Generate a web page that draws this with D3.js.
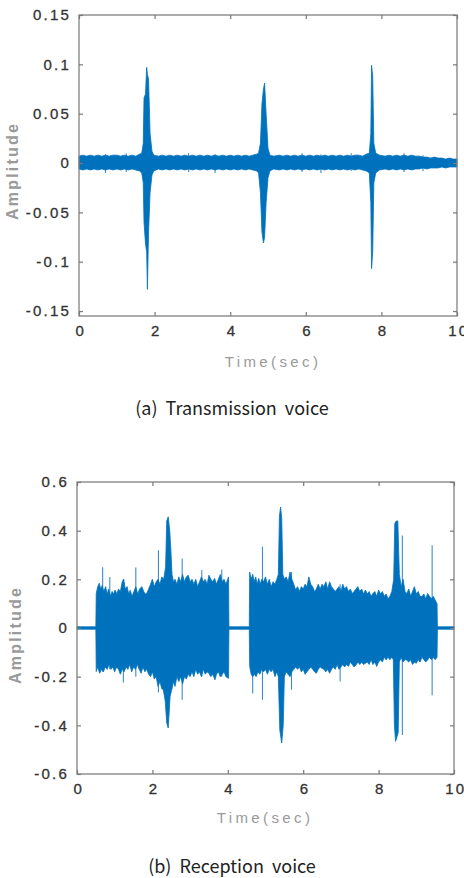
<!DOCTYPE html>
<html>
<head>
<meta charset="utf-8">
<script src="https://cdn.jsdelivr.net/npm/d3@7"></script>
<style>
  body { margin: 0; background: #fff; }
  svg { display: block; }
  .tick text { font-family: "Liberation Sans", Arial, sans-serif; font-size: 15px; fill: #333; stroke: #333; stroke-width: 0.3px; letter-spacing: 2.2px; }
  .tick line { stroke: #7a7a7a; stroke-width: 1.2; }
  .axis-title { font-family: "Liberation Sans", Arial, sans-serif; fill: #9a9a9a; }
  .caption { font-family: "Noto Sans CJK KR", "Noto Sans", sans-serif; font-size: 18px; fill: #222; }
</style>
</head>
<body>
<div id="chart"></div>
<script>
var timeTicks = [0, 2, 4, 6, 8, 10];

// ---- (a) Transmission voice : [time, amplitude] envelope ----
var ampTicksA = [-0.15, -0.1, -0.05, 0, 0.05, 0.1, 0.15];
var ampLabelsA = ["-0.15", "-0.1", "-0.05", "0", "0.05", "0.1", "0.15"];

var upperA = [[0, 0.007], [0.1, 0.008], [0.2, 0.007], [0.3, 0.008], [0.4, 0.007], [0.5, 0.008], [0.6, 0.007], [0.7, 0.008],
  [0.8, 0.007], [0.9, 0.008], [1.0, 0.008], [1.1, 0.007], [1.2, 0.008], [1.3, 0.007], [1.4, 0.008], [1.5, 0.007],
  [1.6, 0.009], [1.66, 0.010], [1.70, 0.02], [1.72, 0.066], [1.76, 0.07], [1.79, 0.097], [1.81, 0.09], [1.84, 0.085],
  [1.88, 0.03], [1.93, 0.012], [1.98, 0.008], [2.1, 0.007], [2.2, 0.008], [2.3, 0.007], [2.4, 0.008], [2.5, 0.007],
  [2.6, 0.008], [2.7, 0.007], [2.8, 0.008], [2.9, 0.007], [3.0, 0.008], [3.1, 0.007], [3.2, 0.008], [3.3, 0.007],
  [3.4, 0.008], [3.5, 0.007], [3.6, 0.008], [3.7, 0.007], [3.8, 0.008], [3.9, 0.007], [4.0, 0.008], [4.1, 0.007],
  [4.2, 0.008], [4.3, 0.007], [4.4, 0.008], [4.5, 0.007], [4.6, 0.008], [4.7, 0.009], [4.75, 0.010], [4.80, 0.02],
  [4.84, 0.06], [4.88, 0.075], [4.91, 0.081], [4.95, 0.05], [5.0, 0.015], [5.05, 0.008], [5.15, 0.007], [5.3, 0.008],
  [5.4, 0.007], [5.5, 0.008], [5.6, 0.007], [5.7, 0.008], [5.8, 0.007], [5.9, 0.008], [6.0, 0.007], [6.1, 0.008],
  [6.2, 0.007], [6.3, 0.008], [6.4, 0.007], [6.5, 0.008], [6.6, 0.007], [6.7, 0.008], [6.8, 0.007], [6.9, 0.008],
  [7.0, 0.007], [7.1, 0.008], [7.2, 0.007], [7.3, 0.008], [7.4, 0.008], [7.5, 0.007], [7.6, 0.009], [7.68, 0.010],
  [7.72, 0.03], [7.74, 0.099], [7.77, 0.088], [7.80, 0.02], [7.85, 0.010], [7.95, 0.008], [8.1, 0.007], [8.2, 0.008],
  [8.3, 0.007], [8.4, 0.008], [8.5, 0.007], [8.6, 0.008], [8.7, 0.007], [8.8, 0.008], [8.9, 0.007], [9.0, 0.007],
  [9.1, 0.006], [9.2, 0.006], [9.3, 0.005], [9.4, 0.006], [9.5, 0.005], [9.6, 0.005], [9.7, 0.004], [9.8, 0.005],
  [9.9, 0.004], [10.0, 0.004]];
var lowerA = [[0, -0.006], [0.1, -0.007], [0.2, -0.006], [0.3, -0.007], [0.4, -0.006], [0.5, -0.007], [0.6, -0.006],
  [0.7, -0.007], [0.8, -0.006], [0.9, -0.007], [1.0, -0.006], [1.1, -0.007], [1.2, -0.006], [1.3, -0.007], [1.4, -0.006],
  [1.5, -0.007], [1.6, -0.008], [1.66, -0.010], [1.70, -0.02], [1.72, -0.06], [1.76, -0.082], [1.79, -0.09],
  [1.81, -0.128], [1.84, -0.07], [1.88, -0.03], [1.93, -0.012], [1.98, -0.008], [2.1, -0.006], [2.2, -0.007],
  [2.3, -0.006], [2.4, -0.007], [2.5, -0.006], [2.6, -0.007], [2.7, -0.006], [2.8, -0.007], [2.9, -0.006],
  [3.0, -0.007], [3.1, -0.006], [3.2, -0.007], [3.3, -0.006], [3.4, -0.007], [3.5, -0.006], [3.6, -0.007],
  [3.7, -0.006], [3.8, -0.007], [3.9, -0.006], [4.0, -0.007], [4.1, -0.006], [4.2, -0.007], [4.3, -0.006],
  [4.4, -0.007], [4.5, -0.006], [4.6, -0.007], [4.7, -0.008], [4.75, -0.010], [4.80, -0.03], [4.84, -0.07],
  [4.88, -0.081], [4.91, -0.075], [4.95, -0.04], [5.0, -0.015], [5.05, -0.008], [5.15, -0.006], [5.3, -0.007],
  [5.4, -0.006], [5.5, -0.007], [5.6, -0.006], [5.7, -0.007], [5.8, -0.006], [5.9, -0.007], [6.0, -0.006],
  [6.1, -0.007], [6.2, -0.006], [6.3, -0.007], [6.4, -0.006], [6.5, -0.007], [6.6, -0.006], [6.7, -0.007],
  [6.8, -0.006], [6.9, -0.007], [7.0, -0.006], [7.1, -0.007], [7.2, -0.006], [7.3, -0.007], [7.4, -0.006],
  [7.5, -0.007], [7.6, -0.008], [7.68, -0.010], [7.72, -0.04], [7.74, -0.107], [7.77, -0.09], [7.80, -0.02],
  [7.85, -0.010], [7.95, -0.007], [8.1, -0.006], [8.2, -0.007], [8.3, -0.006], [8.4, -0.007], [8.5, -0.006],
  [8.6, -0.007], [8.7, -0.006], [8.8, -0.007], [8.9, -0.006], [9.0, -0.006], [9.1, -0.005], [9.2, -0.006],
  [9.3, -0.005], [9.4, -0.005], [9.5, -0.005], [9.6, -0.004], [9.7, -0.005], [9.8, -0.004], [9.9, -0.004], [10.0, -0.004]];
// thin noise blips: [time, high, low]
var spikesA = [[0.7, 0.009, -0.010], [1.25, 0.010, -0.009], [2.9, 0.010, -0.009], [3.6, 0.009, -0.010],
  [5.9, 0.010, -0.009], [6.4, 0.009, -0.010], [7.2, 0.010, -0.008], [8.6, 0.010, -0.009], [9.1, 0.008, -0.008]];

// ---- (b) Reception voice ----
var ampTicksB = [-0.6, -0.4, -0.2, 0, 0.2, 0.4, 0.6];
var ampLabelsB = ["-0.6", "-0.4", "-0.2", "0", "0.2", "0.4", "0.6"];

var upperB = [[0, 0.005], [0.50, 0.005], [0.51, 0.142], [0.55, 0.17], [0.59, 0.184], [0.63, 0.16], [0.67, 0.175],
  [0.71, 0.15], [0.76, 0.17], [0.80, 0.14], [0.84, 0.16], [0.89, 0.13], [0.93, 0.15], [0.97, 0.14], [1.01, 0.156],
  [1.06, 0.14], [1.10, 0.16], [1.15, 0.15], [1.20, 0.19], [1.24, 0.20], [1.28, 0.16], [1.33, 0.17], [1.37, 0.14],
  [1.41, 0.155], [1.46, 0.13], [1.51, 0.15], [1.56, 0.17], [1.61, 0.14], [1.66, 0.16], [1.72, 0.17], [1.77, 0.15],
  [1.81, 0.14], [1.85, 0.142], [1.90, 0.16], [1.95, 0.18], [2.00, 0.20], [2.05, 0.17], [2.10, 0.19], [2.15, 0.20],
  [2.20, 0.18], [2.25, 0.21], [2.30, 0.20], [2.35, 0.25], [2.38, 0.44], [2.42, 0.457], [2.46, 0.40], [2.49, 0.32],
  [2.52, 0.22], [2.56, 0.19], [2.60, 0.20], [2.65, 0.18], [2.70, 0.21], [2.75, 0.19], [2.80, 0.22], [2.85, 0.19],
  [2.90, 0.21], [2.95, 0.217], [3.00, 0.19], [3.05, 0.20], [3.10, 0.18], [3.15, 0.20], [3.20, 0.17], [3.25, 0.19],
  [3.30, 0.21], [3.35, 0.19], [3.40, 0.20], [3.45, 0.18], [3.50, 0.217], [3.55, 0.20], [3.60, 0.19], [3.65, 0.204],
  [3.70, 0.18], [3.75, 0.20], [3.80, 0.22], [3.85, 0.19], [3.90, 0.20], [3.95, 0.18], [4.02, 0.21], [4.03, 0.005],
  [4.57, 0.005], [4.58, 0.23], [4.62, 0.20], [4.66, 0.22], [4.70, 0.19], [4.74, 0.21], [4.78, 0.18], [4.82, 0.204],
  [4.86, 0.18], [4.90, 0.20], [4.95, 0.19], [5.00, 0.21], [5.05, 0.18], [5.10, 0.20], [5.15, 0.17], [5.20, 0.19],
  [5.25, 0.18], [5.30, 0.20], [5.34, 0.22], [5.37, 0.46], [5.40, 0.497], [5.43, 0.45], [5.46, 0.22], [5.50, 0.20],
  [5.55, 0.21], [5.60, 0.19], [5.65, 0.23], [5.70, 0.20], [5.75, 0.18], [5.80, 0.156], [5.85, 0.17], [5.90, 0.15],
  [5.95, 0.17], [6.00, 0.16], [6.05, 0.18], [6.10, 0.17], [6.15, 0.21], [6.20, 0.18], [6.25, 0.17], [6.30, 0.15],
  [6.35, 0.16], [6.40, 0.18], [6.45, 0.16], [6.50, 0.18], [6.55, 0.17], [6.60, 0.19], [6.65, 0.16], [6.70, 0.19],
  [6.75, 0.17], [6.80, 0.16], [6.85, 0.15], [6.90, 0.16], [6.95, 0.17], [7.00, 0.15], [7.05, 0.18], [7.10, 0.16],
  [7.15, 0.17], [7.20, 0.15], [7.25, 0.16], [7.30, 0.142], [7.35, 0.15], [7.40, 0.16], [7.45, 0.17], [7.50, 0.15],
  [7.55, 0.16], [7.60, 0.14], [7.65, 0.156], [7.70, 0.14], [7.75, 0.15], [7.80, 0.13], [7.85, 0.142], [7.90, 0.15],
  [7.95, 0.13], [8.00, 0.156], [8.05, 0.14], [8.10, 0.15], [8.15, 0.13], [8.20, 0.14], [8.25, 0.12], [8.30, 0.13],
  [8.35, 0.15], [8.40, 0.20], [8.43, 0.43], [8.47, 0.44], [8.51, 0.44], [8.55, 0.22], [8.60, 0.17], [8.65, 0.20],
  [8.70, 0.15], [8.75, 0.142], [8.80, 0.16], [8.85, 0.13], [8.90, 0.15], [8.95, 0.17], [9.00, 0.14], [9.05, 0.15],
  [9.10, 0.13], [9.15, 0.129], [9.20, 0.14], [9.25, 0.12], [9.30, 0.142], [9.35, 0.13], [9.40, 0.12], [9.45, 0.13],
  [9.50, 0.115], [9.55, 0.10], [9.56, 0.005], [10, 0.005]];
var lowerB = [[0, -0.005], [0.50, -0.005], [0.51, -0.179], [0.55, -0.16], [0.60, -0.186], [0.65, -0.17], [0.70, -0.18],
  [0.75, -0.16], [0.80, -0.17], [0.85, -0.15], [0.90, -0.17], [0.95, -0.16], [1.00, -0.18], [1.05, -0.16], [1.10, -0.17],
  [1.15, -0.19], [1.20, -0.17], [1.25, -0.18], [1.30, -0.16], [1.35, -0.17], [1.40, -0.15], [1.45, -0.18], [1.50, -0.16],
  [1.55, -0.17], [1.60, -0.15], [1.65, -0.17], [1.70, -0.186], [1.75, -0.16], [1.80, -0.18], [1.85, -0.17], [1.90, -0.19],
  [1.95, -0.20], [2.00, -0.18], [2.05, -0.21], [2.10, -0.20], [2.15, -0.24], [2.20, -0.22], [2.25, -0.25], [2.29, -0.254],
  [2.34, -0.30], [2.38, -0.39], [2.42, -0.411], [2.47, -0.28], [2.52, -0.25], [2.56, -0.22], [2.60, -0.24], [2.65, -0.20],
  [2.70, -0.22], [2.75, -0.20], [2.80, -0.23], [2.85, -0.20], [2.90, -0.21], [2.95, -0.19], [3.00, -0.20], [3.05, -0.18],
  [3.10, -0.20], [3.15, -0.17], [3.20, -0.19], [3.25, -0.18], [3.30, -0.20], [3.35, -0.17], [3.40, -0.19], [3.45, -0.18],
  [3.50, -0.186], [3.55, -0.20], [3.60, -0.19], [3.66, -0.213], [3.70, -0.19], [3.75, -0.18], [3.80, -0.20], [3.84, -0.193],
  [3.90, -0.18], [3.95, -0.20], [4.02, -0.207], [4.03, -0.005], [4.57, -0.005], [4.58, -0.158], [4.62, -0.19],
  [4.66, -0.20], [4.70, -0.19], [4.75, -0.20], [4.80, -0.18], [4.85, -0.19], [4.90, -0.17], [4.95, -0.18], [5.00, -0.17],
  [5.05, -0.19], [5.10, -0.17], [5.15, -0.18], [5.20, -0.17], [5.25, -0.20], [5.30, -0.18], [5.34, -0.20], [5.38, -0.42],
  [5.43, -0.473], [5.47, -0.40], [5.50, -0.20], [5.55, -0.18], [5.60, -0.19], [5.65, -0.20], [5.70, -0.18], [5.75, -0.17],
  [5.80, -0.16], [5.85, -0.17], [5.90, -0.16], [5.95, -0.18], [6.00, -0.17], [6.05, -0.19], [6.10, -0.18], [6.15, -0.17],
  [6.20, -0.16], [6.25, -0.17], [6.30, -0.18], [6.35, -0.186], [6.40, -0.17], [6.45, -0.16], [6.50, -0.166], [6.55, -0.17],
  [6.60, -0.18], [6.65, -0.17], [6.70, -0.186], [6.75, -0.17], [6.80, -0.16], [6.85, -0.17], [6.90, -0.15], [6.95, -0.17],
  [7.00, -0.16], [7.05, -0.15], [7.10, -0.16], [7.15, -0.15], [7.20, -0.158], [7.25, -0.14], [7.30, -0.15], [7.35, -0.16],
  [7.40, -0.152], [7.45, -0.14], [7.50, -0.15], [7.55, -0.14], [7.60, -0.15], [7.65, -0.145], [7.70, -0.14], [7.75, -0.15],
  [7.80, -0.13], [7.85, -0.15], [7.90, -0.14], [7.95, -0.158], [8.00, -0.14], [8.05, -0.13], [8.10, -0.14], [8.15, -0.12],
  [8.20, -0.131], [8.25, -0.12], [8.30, -0.13], [8.35, -0.12], [8.39, -0.13], [8.42, -0.40], [8.45, -0.466], [8.52, -0.43],
  [8.55, -0.14], [8.60, -0.12], [8.65, -0.14], [8.70, -0.13], [8.74, -0.131], [8.80, -0.14], [8.85, -0.13], [8.90, -0.15],
  [8.95, -0.14], [9.00, -0.145], [9.05, -0.13], [9.10, -0.14], [9.15, -0.12], [9.20, -0.13], [9.25, -0.14], [9.30, -0.131],
  [9.35, -0.12], [9.40, -0.13], [9.45, -0.12], [9.50, -0.13], [9.55, -0.12], [9.56, -0.005], [10, -0.005]];
var spikesB = [[0.68, 0.25, -0.18], [0.87, 0.21, -0.17], [1.23, 0.20, -0.224], [1.56, 0.249, -0.20], [2.16, 0.32, -0.265],
  [2.79, 0.286, -0.295], [3.31, 0.238, -0.20], [3.84, 0.24, -0.20], [4.66, 0.22, -0.269], [4.92, 0.334, -0.295],
  [5.69, 0.23, -0.254], [6.98, 0.18, -0.22], [8.63, 0.38, -0.44], [9.42, 0.34, -0.276]];

var W = 464, H = 878;
var svg = d3.select("#chart").append("svg").attr("width", W).attr("height", H);

function drawPanel(cfg) {
  var x = d3.scaleLinear().domain([0, 10]).range([cfg.left, cfg.right]);
  var y = d3.scaleLinear().domain(cfg.yDomain).range([cfg.bottom, cfg.top]);
  var g = svg.append("g");

  // thin spikes go under the dense body so they only show outside it
  g.selectAll("line.spike")
    .data(cfg.spikes)
    .join("line")
    .attr("class", "spike")
    .attr("x1", function(d) { return x(d[0]); })
    .attr("x2", function(d) { return x(d[0]); })
    .attr("y1", function(d) { return y(d[1]); })
    .attr("y2", function(d) { return y(d[2]); })
    .attr("stroke", "#3b8ccc")
    .attr("stroke-width", 1.1);

  var env = d3.area()
    .x(function(d) { return x(d[0]); })
    .y0(y(0))
    .y1(function(d) { return y(d[1]); });

  [cfg.upper, cfg.lower].forEach(function(data) {
    g.append("path")
      .datum(data)
      .attr("d", env)
      .attr("fill", "#0072bd")
      .attr("stroke", "#0072bd")
      .attr("stroke-width", 0.8)
      .attr("stroke-linejoin", "miter");
  });

  // box
  g.append("rect")
    .attr("x", cfg.left).attr("y", cfg.top)
    .attr("width", cfg.right - cfg.left).attr("height", cfg.bottom - cfg.top)
    .attr("fill", "none").attr("stroke", "#808080").attr("stroke-width", 1.3);

  var left = g.append("g").attr("transform", "translate(" + cfg.left + ",0)")
    .call(d3.axisLeft(y).tickValues(cfg.yTicks).tickSize(-4).tickPadding(8)
      .tickFormat(function(d, i) { return cfg.yLabels[i]; }));
  var right = g.append("g").attr("transform", "translate(" + cfg.right + ",0)")
    .call(d3.axisRight(y).tickValues(cfg.yTicks).tickSize(-4).tickFormat(""));
  var bottom = g.append("g").attr("transform", "translate(0," + cfg.bottom + ")")
    .call(d3.axisBottom(x).tickValues(timeTicks).tickSize(-4).tickPadding(9)
      .tickFormat(function(d) { return String(d); }));
  var top = g.append("g").attr("transform", "translate(0," + cfg.top + ")")
    .call(d3.axisTop(x).tickValues(timeTicks).tickSize(-4).tickFormat(""));
  [left, right, bottom, top].forEach(function(a) { a.select(".domain").remove(); });
  bottom.selectAll(".tick text").attr("dx", "0.08em");

  g.append("text")
    .attr("class", "axis-title")
    .attr("transform", "translate(" + cfg.yTitleX + "," + cfg.yTitleY + ") rotate(-90)")
    .attr("text-anchor", "middle")
    .attr("dy", "0.35em")
    .style("font-size", "16px").style("font-weight", "bold").style("letter-spacing", "2.2px")
    .text("Amplitude");

  g.append("text")
    .attr("class", "axis-title")
    .attr("x", cfg.xTitleX).attr("y", cfg.xTitleY)
    .attr("text-anchor", "middle")
    .style("font-size", "15px").style("letter-spacing", "3.4px")
    .text("Time(sec)");

  g.append("text")
    .attr("class", "caption")
    .attr("x", 232).attr("y", cfg.captionY)
    .attr("text-anchor", "middle")
    .attr("xml:space", "preserve")
    .text(cfg.caption);
}

drawPanel({
  left: 79, right: 457, top: 15, bottom: 316,
  yDomain: [-0.155, 0.15], yTicks: ampTicksA, yLabels: ampLabelsA,
  upper: upperA, lower: lowerA, spikes: spikesA,
  yTitleX: 12, yTitleY: 171, xTitleX: 273, xTitleY: 367,
  caption: "(a)  Transmission  voice", captionY: 415
});

drawPanel({
  left: 77, right: 454, top: 482, bottom: 774,
  yDomain: [-0.6, 0.6], yTicks: ampTicksB, yLabels: ampLabelsB,
  upper: upperB, lower: lowerB, spikes: spikesB,
  yTitleX: 15, yTitleY: 635, xTitleX: 265, xTitleY: 823,
  caption: "(b)  Reception  voice", captionY: 873
});
</script>
</body>
</html>
